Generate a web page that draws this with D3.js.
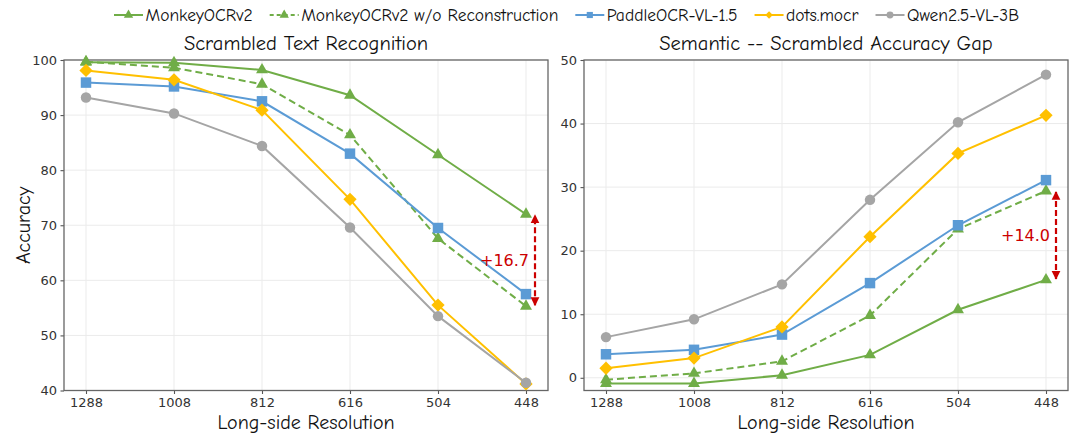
<!DOCTYPE html>
<html>
<head>
<meta charset="utf-8">
<script src="https://cdn.jsdelivr.net/npm/d3@7"></script>
<style>
  html, body { margin: 0; padding: 0; background: #fff; }
  svg { display: block; }
  .comic { font-family: "Comic Sans MS", "Comic Neue", "DejaVu Sans", sans-serif; fill: #111; }
  .tick text { font-family: "DejaVu Sans", sans-serif; font-size: 13px; fill: #333; }
</style>
</head>
<body>
<svg id="chart" width="1080" height="439"></svg>
<script>
// --- DATA ---
const resolutions = ["1288", "1008", "812", "616", "504", "448"];
const seriesNames = ["MonkeyOCRv2", "MonkeyOCRv2 w/o Reconstruction", "PaddleOCR-VL-1.5", "dots.mocr", "Qwen2.5-VL-3B"];

// Scrambled Text Recognition (accuracy)
const accMonkey      = [99.6, 99.5, 98.2, 93.6, 82.8, 72.0];
const accMonkeyNoRec = [99.7, 98.6, 95.6, 86.4, 67.6, 55.3];
const accPaddle      = [95.9, 95.2, 92.5, 83.0, 69.5, 57.5];
const accDots        = [98.1, 96.4, 90.9, 74.7, 55.5, 41.2];
const accQwen        = [93.2, 90.3, 84.4, 69.6, 53.5, 41.4];

// Semantic -- Scrambled accuracy gap
const gapMonkey      = [-0.9, -0.9, 0.4, 3.6, 10.7, 15.4];
const gapMonkeyNoRec = [-0.3, 0.7, 2.6, 9.8, 23.4, 29.4];
const gapPaddle      = [3.7, 4.4, 6.8, 14.9, 24.0, 31.1];
const gapDots        = [1.5, 3.1, 8.0, 22.2, 35.3, 41.3];
const gapQwen        = [6.4, 9.2, 14.7, 28.0, 40.2, 47.7];

const leftTicks = [40, 50, 60, 70, 80, 90, 100];
const rightTicks = [0, 10, 20, 30, 40, 50];

// --- STYLE ---
const styles = [
  { color: "#70ad47", symbol: "triangle", dash: null },
  { color: "#70ad47", symbol: "triangle", dash: "7,4" },
  { color: "#5b9bd5", symbol: "square", dash: null },
  { color: "#ffc000", symbol: "diamond", dash: null },
  { color: "#a5a5a5", symbol: "circle", dash: null }
];
const annotColor = "#cc0000";

const svg = d3.select("#chart");
const defs = svg.append("defs");
defs.append("marker")
    .attr("id", "arrowhead")
    .attr("viewBox", "0 0 10 10")
    .attr("refX", 9).attr("refY", 5)
    .attr("markerWidth", 4).attr("markerHeight", 5)
    .attr("markerUnits", "strokeWidth")
    .attr("orient", "auto-start-reverse")
    .append("path").attr("d", "M0,0L10,5L0,10Z").attr("fill", annotColor);

function symbolPath(kind) {
  if (kind === "triangle") return d3.symbol(d3.symbolTriangle, 62)();
  if (kind === "square") return d3.symbol(d3.symbolSquare, 110)();
  if (kind === "diamond") return d3.symbol(d3.symbolSquare, 88)();
  return d3.symbol(d3.symbolCircle, 86)();
}

function drawPanel(opts) {
  const { x0, x1, y0, y1, domain, ticks, series, title, yLabel, gapIdx } = opts;
  const g = svg.append("g");

  const x = d3.scalePoint().domain(resolutions).range([x0, x1]).padding(0.25);
  const y = d3.scaleLinear().domain(domain).range([y1, y0]);

  // grid
  g.append("g").selectAll("line").data(resolutions).join("line")
    .attr("x1", d => x(d)).attr("x2", d => x(d))
    .attr("y1", y0).attr("y2", y1)
    .attr("stroke", "#ebebeb").attr("stroke-width", 1);
  g.append("g").selectAll("line").data(ticks).join("line")
    .attr("x1", x0).attr("x2", x1)
    .attr("y1", d => y(d)).attr("y2", d => y(d))
    .attr("stroke", "#ebebeb").attr("stroke-width", 1);

  // axes
  const xAxis = g.append("g").attr("transform", `translate(0,${y1})`)
    .call(d3.axisBottom(x).tickSize(3.5).tickPadding(3.5));
  const yAxis = g.append("g").attr("transform", `translate(${x0},0)`)
    .call(d3.axisLeft(y).tickValues(ticks).tickSize(3.5).tickPadding(3.5));
  [xAxis, yAxis].forEach(a => {
    a.select(".domain").remove();
    a.selectAll(".tick line").attr("stroke", "#555").attr("stroke-width", 1.1);
  });

  // frame
  g.append("rect")
    .attr("x", x0).attr("y", y0)
    .attr("width", x1 - x0).attr("height", y1 - y0)
    .attr("fill", "none").attr("stroke", "#666").attr("stroke-width", 1.3);

  // series
  const line = d3.line().x((d, i) => x(resolutions[i])).y(d => y(d));
  series.forEach((vals, si) => {
    const st = styles[si];
    g.append("path").datum(vals)
      .attr("d", line)
      .attr("fill", "none")
      .attr("stroke", st.color)
      .attr("stroke-width", 2)
      .attr("stroke-dasharray", st.dash);
    g.append("g").selectAll("path").data(vals).join("path")
      .attr("d", symbolPath(st.symbol))
      .attr("transform", (d, i) => `translate(${x(resolutions[i])},${y(d)})` + (st.symbol === "diamond" ? " rotate(45)" : ""))
      .attr("fill", st.color);
  });

  // gap annotation between MonkeyOCRv2 and w/o Reconstruction at last resolution
  const last = resolutions.length - 1;
  const a = series[0][last], b = series[1][last];
  const top = Math.max(a, b), bottom = Math.min(a, b);
  const ax = x(resolutions[last]) + gapIdx.offset;
  g.append("line")
    .attr("x1", ax).attr("x2", ax)
    .attr("y1", y(bottom) - 1).attr("y2", y(top) + 1)
    .attr("stroke", annotColor).attr("stroke-width", 2.2)
    .attr("stroke-dasharray", "6,3")
    .attr("marker-start", "url(#arrowhead)")
    .attr("marker-end", "url(#arrowhead)");
  g.append("text")
    .attr("x", ax - 6).attr("y", (y(top) + y(bottom)) / 2 + 6)
    .attr("text-anchor", "end")
    .attr("font-family", "DejaVu Sans, sans-serif")
    .attr("font-size", 16)
    .attr("fill", annotColor)
    .text("+" + d3.format(".1f")(Math.abs(a - b)));

  // titles and labels
  g.append("text").attr("class", "comic")
    .attr("x", (x0 + x1) / 2).attr("y", 50)
    .attr("text-anchor", "middle").attr("font-size", 20.5)
    .text(title);
  g.append("text").attr("class", "comic")
    .attr("x", (x0 + x1) / 2).attr("y", 429)
    .attr("text-anchor", "middle").attr("font-size", 20)
    .text("Long-side Resolution");
  if (yLabel) {
    g.append("text").attr("class", "comic")
      .attr("transform", `translate(30,${(y0 + y1) / 2}) rotate(-90)`)
      .attr("text-anchor", "middle").attr("font-size", 20)
      .text(yLabel);
  }
}

drawPanel({
  x0: 64, x1: 548, y0: 60, y1: 390.5,
  domain: [40, 100], ticks: leftTicks,
  series: [accMonkey, accMonkeyNoRec, accPaddle, accDots, accQwen],
  title: "Scrambled Text Recognition", yLabel: "Accuracy",
  gapIdx: { offset: 9 }
});

drawPanel({
  x0: 584, x1: 1068, y0: 60, y1: 390.5,
  domain: [-2, 50], ticks: rightTicks,
  series: [gapMonkey, gapMonkeyNoRec, gapPaddle, gapDots, gapQwen],
  title: "Semantic -- Scrambled Accuracy Gap", yLabel: null,
  gapIdx: { offset: 10 }
});

// --- LEGEND ---
const legend = svg.append("g");
let cursor = 0;
seriesNames.forEach((name, i) => {
  const st = styles[i];
  const item = legend.append("g").attr("transform", `translate(${cursor},0)`);
  item.append("line")
    .attr("x1", 0).attr("x2", 29).attr("y1", 0).attr("y2", 0)
    .attr("stroke", st.color).attr("stroke-width", 2)
    .attr("stroke-dasharray", st.dash ? "4,3" : null);
  item.append("path")
    .attr("d", d3.symbol(st.symbol === "triangle" ? d3.symbolTriangle :
                         st.symbol === "circle" ? d3.symbolCircle : d3.symbolSquare,
                         st.symbol === "diamond" ? 28 : 38)())
    .attr("transform", "translate(14.5,0)" + (st.symbol === "diamond" ? " rotate(45)" : ""))
    .attr("fill", st.color);
  const t = item.append("text").attr("class", "comic")
    .attr("x", 31.5).attr("y", 6)
    .attr("font-size", 17.5)
    .text(name);
  cursor += 31.5 + t.node().getComputedTextLength() + 17;
});
const legendWidth = cursor - 17;
legend.attr("transform", `translate(${566.5 - legendWidth / 2},15)`);
</script>
</body>
</html>
